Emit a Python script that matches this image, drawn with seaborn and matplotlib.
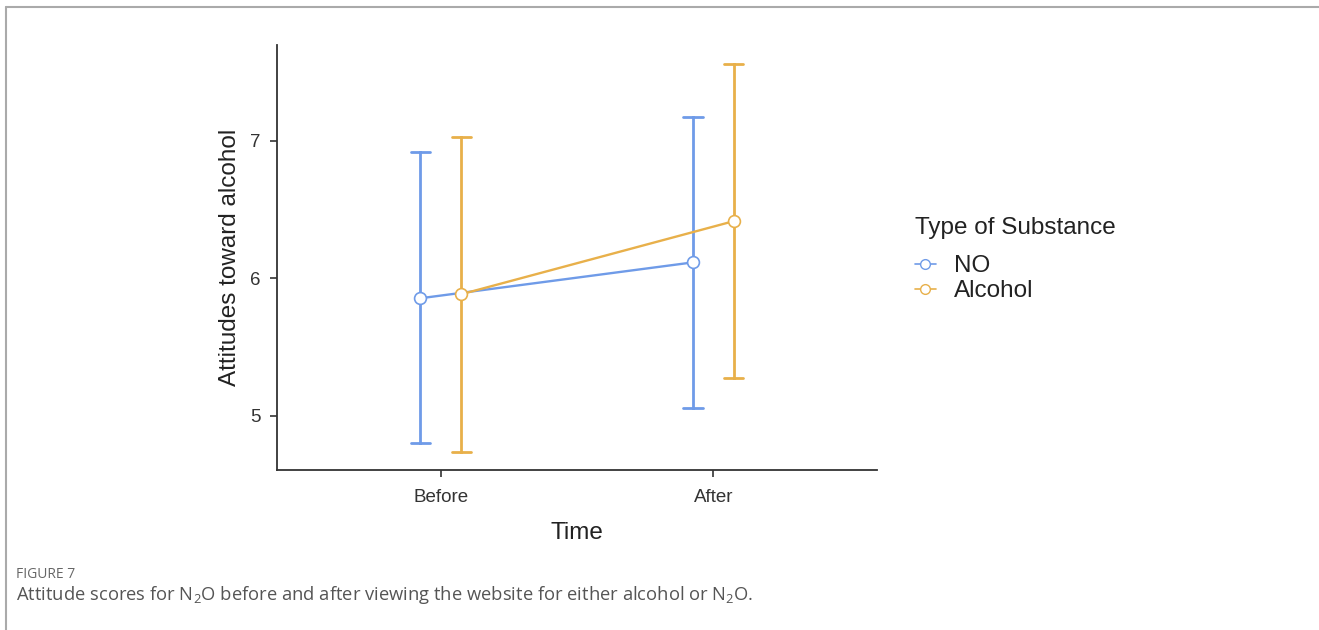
import pandas as pd
import matplotlib.pyplot as plt
import seaborn as sns
from matplotlib.lines import Line2D

# values: mean and ends of the error bars
times = ['Before', 'After']
substances = ['NO', 'Alcohol']
no_mean = [5.855, 6.116]
no_low = [4.80, 5.058]
no_high = [6.92, 7.175]
alc_mean = [5.884, 6.416]
alc_low = [4.74, 5.276]
alc_high = [7.03, 7.56]

colors = ['#6f9be8', '#e8b04a']

# three rows per cell: low, mean, high -> median gives the mean, 100% interval gives the bar
rows = []
for name, mean, low, high in [('NO', no_mean, no_low, no_high),
                              ('Alcohol', alc_mean, alc_low, alc_high)]:
    for i, t in enumerate(times):
        for v in (low[i], mean[i], high[i]):
            rows.append({'Time': t, 'Type of Substance': name, 'score': v})
df = pd.DataFrame(rows)

sns.set_style('white')
plt.rcParams['font.family'] = ['Liberation Sans', 'DejaVu Sans']

fig = plt.figure(figsize=(13.19, 6.3), dpi=100)
ax = fig.add_axes([0.21, 0.254, 0.455, 0.675])

sns.pointplot(data=df, x='Time', y='score', hue='Type of Substance',
              order=times, hue_order=substances, palette=colors,
              estimator='median', errorbar=('pi', 100), dodge=0.15,
              capsize=0.07, err_kws={'linewidth': 2.0},
              markers='o', markersize=8.5, linewidth=1.7, ax=ax, legend=False)

for line in ax.lines:
    if line.get_marker() == 'o':
        line.set_markerfacecolor('white')
        line.set_markeredgewidth(1.2)
        line.set_zorder(5)

ax.set_xlim(-0.6, 1.6)
ax.set_ylim(4.607, 7.698)
ax.set_yticks([5, 6, 7])
ax.set_yticklabels(['5', '6', '7'])
ax.tick_params(axis='both', which='both', length=5, width=1.2, color='#333333',
               labelsize=13.5, labelcolor='#333333', direction='out',
               bottom=True, left=True)
ax.tick_params(axis='x', pad=9)
ax.tick_params(axis='y', pad=7)
ax.set_xlabel('Time', fontsize=17.5, color='#222222', labelpad=11)
ax.set_ylabel('Attitudes toward alcohol', fontsize=17.5, color='#222222', labelpad=6)
sns.despine(ax=ax)
for side in ['left', 'bottom']:
    ax.spines[side].set_color('#333333')
    ax.spines[side].set_linewidth(1.3)

handles = [Line2D([], [], color=c, marker='o', markerfacecolor='white',
                  markersize=7, linewidth=1.2) for c in colors]
leg = ax.legend(handles, substances, title='Type of Substance', frameon=False,
                loc='upper left', bbox_to_anchor=(1.063, 0.596), fontsize=17.5,
                title_fontsize=17.5, handlelength=0.85, handletextpad=0.75,
                labelspacing=0.12, borderpad=0, borderaxespad=0, alignment='left')
leg._legend_box.sep = 12
for txt in leg.get_texts():
    txt.set_color('#222222')
leg.get_title().set_color('#222222')

# page frame lines and caption
fig.add_artist(Line2D([0.0045, 1], [0.989, 0.989], color='#aaaaaa', linewidth=1.5))
fig.add_artist(Line2D([0.0045, 0.0045], [0, 0.989], color='#aaaaaa', linewidth=1.5))
fig.text(0.012, 0.083, 'FIGURE 7', fontsize=10, color='#666666', family='Open Sans')
fig.text(0.012, 0.048,
         'Attitude scores for N$_\\mathregular{2}$O before and after viewing the website '
         'for either alcohol or N$_\\mathregular{2}$O.',
         fontsize=13.2, color='#555555', family='Open Sans')

fig.savefig('out.png', dpi=100)
